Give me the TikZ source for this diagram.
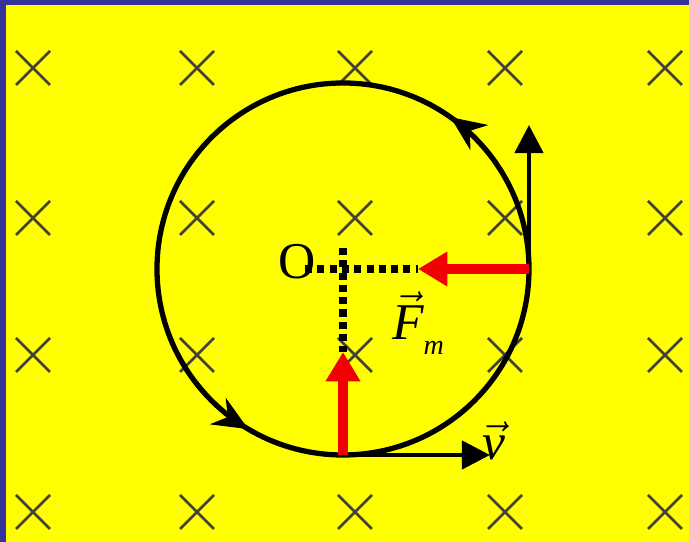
\RequirePackage{fix-cm}
\documentclass[tikz,border=0pt]{standalone}
\usepackage{amsmath}
\usepackage{fontspec}
\setmainfont{Liberation Serif}
\usetikzlibrary{arrows.meta, decorations.markings}
\definecolor{bgyellow}{HTML}{FFFF00}
\definecolor{frameblue}{HTML}{333399}
\definecolor{forcered}{HTML}{F00000}

\begin{document}
\begin{tikzpicture}[x=0.03cm, y=0.03cm,
  cross/.style={line width=2.2pt, black!85!yellow},
  orbit/.style={line width=4.5pt, postaction={decorate}, decoration={markings,
    mark=at position 0.152 with {\arrow{Stealth[length=30pt, width=26pt]}},
    mark=at position 0.665 with {\arrow{Stealth[length=30pt, width=26pt]}}}},
  vec/.style={line width=3.8pt, -{Triangle[length=24pt, width=24pt]}},
  force/.style={line width=8pt, forcered, -{Triangle[length=25pt, width=28pt]}},
  guide/.style={line width=6.5pt, dash pattern=on 6pt off 4.5pt},
  lbl/.style={font=\fontsize{44}{48}\selectfont, inner sep=0pt}]

% Background
\fill[frameblue] (0,0) rectangle (689,542);
\fill[bgyellow] (6,0) rectangle (689,537);

% Field into the page
\foreach \x in {33,197,355,505,665} {
  \foreach \y in {474,324,187,30} {
    \draw[cross] (\x-17,\y-17) -- (\x+17,\y+17) (\x-17,\y+17) -- (\x+17,\y-17);
  }
}

% Orbit
\coordinate (O) at (343,273);
\draw[orbit] (O) ++(0:5.58cm) arc[start angle=0, end angle=360, radius=5.58cm];

% Points on the orbit
\coordinate (R) at (529,273);
\coordinate (B) at (343,87);
\coordinate (Rtip) at (418,273);
\coordinate (Btip) at (343,190);
\coordinate (Rup) at (529,417);
\coordinate (Bright) at (490,87);
\coordinate (Oleft) at (305,273);
\coordinate (Otop) at (343,294);

% Radius guides
\draw[guide] (Oleft) -- (Rtip);
\draw[guide] (Otop) -- (Btip);

% Velocity
\draw[vec] (R) -- (Rup);
\draw[vec] (B) -- (Bright);

% Magnetic force
\draw[force] (R) -- (Rtip);
\draw[force] (B) -- (Btip);

% Labels
\node[lbl] (Olabel) at (297,280) {O};
\node[lbl, anchor=base west] (Flabel) at (392,202)
  {$\vec{\textit{F}}$\raisebox{-12pt}{\fontsize{24}{26}\selectfont\itshape m}};
\node[lbl, anchor=base west] (vlabel) at (482,82) {$\vec{\textit{v}}$};

\end{tikzpicture}
\end{document}
